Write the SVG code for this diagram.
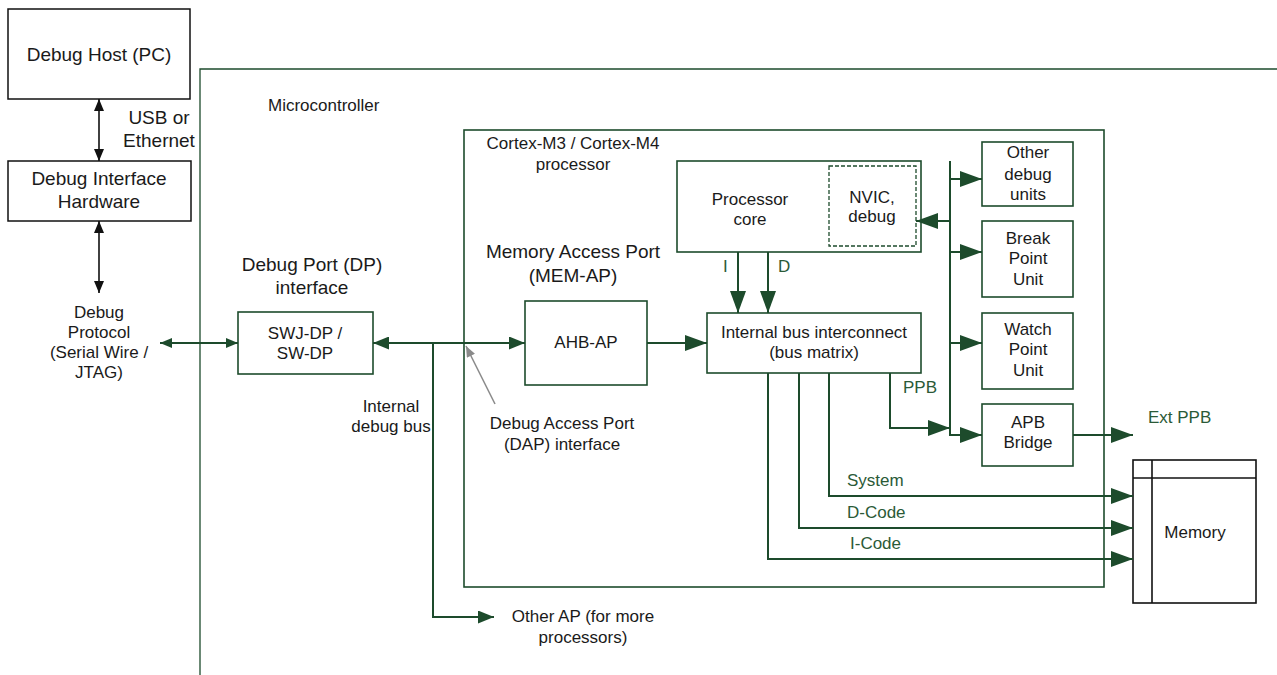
<svg xmlns="http://www.w3.org/2000/svg" width="1277" height="675" viewBox="0 0 1277 675">
<defs>
<style>
text{font-family:"Liberation Sans",Arial,sans-serif;fill:#1a1a1a;font-size:17px}
.c{text-anchor:middle}
.big{font-size:19px}
.g{fill:#2b5a37}
.bk{fill:none;stroke:#111;stroke-width:1.5}
.gb{fill:#fff;stroke:#1d4b2c;stroke-width:1.6}
.ln{fill:none;stroke:#1d4b2c;stroke-width:2}
.lb{fill:none;stroke:#111;stroke-width:1.6}
</style>
<marker id="ab" markerUnits="userSpaceOnUse" markerWidth="22" markerHeight="16" refX="22" refY="8" orient="auto-start-reverse"><path d="M0,0L22,8L0,16z" fill="#1d4b2c"/></marker>
<marker id="am" markerUnits="userSpaceOnUse" markerWidth="16" markerHeight="13" refX="16" refY="6.5" orient="auto-start-reverse"><path d="M0,0L16,6.5L0,13z" fill="#1d4b2c"/></marker>
<marker id="as" markerUnits="userSpaceOnUse" markerWidth="12" markerHeight="10" refX="12" refY="5" orient="auto-start-reverse"><path d="M0,0L12,5L0,10z" fill="#1d4b2c"/></marker>
<marker id="ak" markerUnits="userSpaceOnUse" markerWidth="12" markerHeight="10" refX="12" refY="5" orient="auto-start-reverse"><path d="M0,0L12,5L0,10z" fill="#111"/></marker>
<marker id="ag" markerUnits="userSpaceOnUse" markerWidth="11" markerHeight="9" refX="11" refY="4.5" orient="auto"><path d="M0,0L11,4.5L0,9z" fill="#8a8a8a"/></marker>
</defs>

<!-- containers -->
<g id="microcontroller">
<path d="M1277,69H200V675" fill="none" stroke="#1d4b2c" stroke-width="1.3"/>
<text x="268" y="111">Microcontroller</text>
</g>
<g id="cortex">
<rect x="464" y="130" width="640" height="457" fill="none" stroke="#1d4b2c" stroke-width="1.6"/>
<text class="c" x="573" y="149">Cortex-M3 / Cortex-M4</text>
<text class="c" x="573" y="170">processor</text>
</g>

<!-- nodes -->
<g id="debug-host">
<rect class="bk" x="8" y="9" width="182" height="90" fill="#fff"/>
<text class="c big" x="99" y="61">Debug Host (PC)</text>
</g>
<g id="debug-interface-hw">
<rect class="bk" x="8" y="161" width="183" height="60"/>
<text class="c big" x="99" y="185">Debug Interface</text>
<text class="c big" x="99" y="208">Hardware</text>
</g>
<g id="debug-protocol">
<text class="c" x="99" y="318">Debug</text>
<text class="c" x="99" y="338">Protocol</text>
<text class="c" x="99" y="358">(Serial Wire /</text>
<text class="c" x="99" y="378">JTAG)</text>
</g>
<g id="usb-label">
<text class="c big" x="159" y="124">USB or</text>
<text class="c big" x="159" y="147">Ethernet</text>
</g>
<g id="dp-label">
<text class="c big" x="312" y="271">Debug Port (DP)</text>
<text class="c big" x="312" y="294">interface</text>
</g>
<g id="swj-dp">
<rect class="gb" x="238" y="312" width="135" height="62"/>
<text class="c" x="305" y="339">SWJ-DP /</text>
<text class="c" x="305" y="359">SW-DP</text>
</g>
<g id="internal-debug-bus-label">
<text class="c" x="391" y="412">Internal</text>
<text class="c" x="391" y="432">debug bus</text>
</g>
<g id="dap-label">
<text class="c" x="562" y="429">Debug Access Port</text>
<text class="c" x="562" y="450">(DAP) interface</text>
</g>
<g id="other-ap">
<text class="c" x="583" y="622">Other AP (for more</text>
<text class="c" x="583" y="643">processors)</text>
</g>
<g id="mem-ap-label">
<text class="c big" x="573" y="258">Memory Access Port</text>
<text class="c big" x="573" y="282">(MEM-AP)</text>
</g>
<g id="ahb-ap">
<rect class="gb" x="525" y="301" width="122" height="84"/>
<text class="c" x="586" y="348">AHB-AP</text>
</g>
<g id="processor-core">
<rect class="gb" x="677" y="161" width="244" height="91"/>
<text class="c" x="750" y="205">Processor</text>
<text class="c" x="750" y="225">core</text>
</g>
<g id="nvic">
<rect x="829" y="166" width="87" height="80" fill="none" stroke="#1d4b2c" stroke-width="1.3" stroke-dasharray="4,2"/>
<text class="c" x="872" y="203">NVIC,</text>
<text class="c" x="872" y="222">debug</text>
</g>
<g id="bus-matrix">
<rect class="gb" x="707" y="313" width="214" height="60"/>
<text class="c" x="814" y="338">Internal bus interconnect</text>
<text class="c" x="814" y="358">(bus matrix)</text>
</g>
<g id="other-debug">
<rect class="gb" x="982" y="142" width="91" height="64"/>
<text class="c" x="1028" y="158">Other</text>
<text class="c" x="1028" y="180">debug</text>
<text class="c" x="1028" y="200">units</text>
</g>
<g id="bpu">
<rect class="gb" x="982" y="221" width="91" height="76"/>
<text class="c" x="1028" y="244">Break</text>
<text class="c" x="1028" y="264">Point</text>
<text class="c" x="1028" y="285">Unit</text>
</g>
<g id="wpu">
<rect class="gb" x="982" y="313" width="91" height="76"/>
<text class="c" x="1028" y="335">Watch</text>
<text class="c" x="1028" y="355">Point</text>
<text class="c" x="1028" y="376">Unit</text>
</g>
<g id="apb-bridge">
<rect class="gb" x="982" y="404" width="91" height="62"/>
<text class="c" x="1028" y="428">APB</text>
<text class="c" x="1028" y="448">Bridge</text>
</g>
<g id="memory">
<rect x="1133" y="460" width="123" height="143" fill="#fff" stroke="#111" stroke-width="1.6"/>
<line x1="1152" y1="460" x2="1152" y2="603" stroke="#111" stroke-width="1.6"/>
<line x1="1133" y1="478" x2="1256" y2="478" stroke="#111" stroke-width="1.6"/>
<text class="c" x="1195" y="538">Memory</text>
</g>

<!-- connectors -->
<g id="connectors">
<line class="lb" x1="99" y1="99" x2="99" y2="161" marker-start="url(#ak)" marker-end="url(#ak)"/>
<line class="lb" x1="99" y1="221" x2="99" y2="293" marker-start="url(#ak)" marker-end="url(#ak)"/>
<line class="ln" x1="160" y1="343" x2="238" y2="343" stroke-width="1.6" marker-start="url(#as)" marker-end="url(#as)"/>
<line class="ln" x1="373" y1="343" x2="525" y2="343" marker-start="url(#am)" marker-end="url(#am)"/>
<path class="ln" d="M433,343V617H494" marker-end="url(#am)"/>
<line x1="495" y1="404" x2="466" y2="346" stroke="#8a8a8a" stroke-width="1.5" marker-end="url(#ag)"/>
<line class="ln" x1="647" y1="343" x2="707" y2="343" marker-end="url(#ab)"/>
<line class="ln" x1="738" y1="252" x2="738" y2="313" marker-end="url(#ab)"/>
<line class="ln" x1="768" y1="252" x2="768" y2="313" marker-end="url(#ab)"/>
<path class="ln" d="M950,161V435H982" marker-end="url(#ab)"/>
<line class="ln" x1="950" y1="179" x2="982" y2="179" marker-end="url(#ab)"/>
<line class="ln" x1="950" y1="221" x2="916" y2="221" marker-end="url(#ab)"/>
<line class="ln" x1="950" y1="252" x2="982" y2="252" marker-end="url(#ab)"/>
<line class="ln" x1="950" y1="343" x2="982" y2="343" marker-end="url(#ab)"/>
<path class="ln" d="M890,373V428H950" marker-end="url(#ab)"/>
<line class="ln" x1="1073" y1="435" x2="1133" y2="435" marker-end="url(#ab)"/>
<path class="ln" d="M829,373V496H1133" marker-end="url(#ab)"/>
<path class="ln" d="M799,373V528H1133" marker-end="url(#ab)"/>
<path class="ln" d="M768,373V559H1133" marker-end="url(#ab)"/>
<text class="g" x="723" y="272">I</text>
<text class="g" x="778" y="272">D</text>
<text class="g c" x="920" y="393">PPB</text>
<text class="g" x="1148" y="423">Ext PPB</text>
<text class="g" x="847" y="486">System</text>
<text class="g" x="847" y="518">D-Code</text>
<text class="g" x="850" y="549">I-Code</text>
</g>
</svg>
